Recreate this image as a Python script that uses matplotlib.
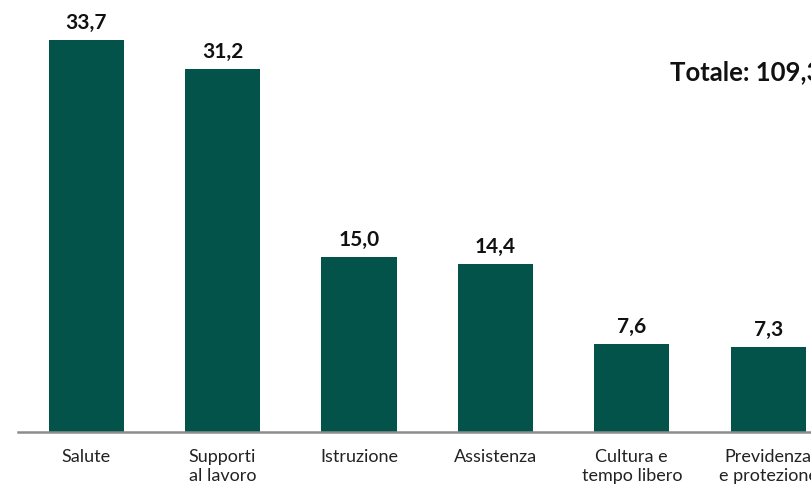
import matplotlib
matplotlib.use("Agg")
import matplotlib.pyplot as plt

categories = ["Salute", "Supporti\nal lavoro", "Istruzione", "Assistenza",
              "Cultura e\ntempo libero", "Previdenza\ne protezione"]
values = [33.7, 31.2, 15.0, 14.4, 7.6, 7.3]
value_labels = ["33,7", "31,2", "15,0", "14,4", "7,6", "7,3"]
total_label = "Totale: 109,3"

plt.rcParams["font.family"] = ["Lato", "DejaVu Sans"]

bar_color = "#03534a"

fig = plt.figure(figsize=(8.11, 4.88), dpi=100)
ax = fig.add_axes([18 / 811, 56 / 488, 818.4 / 811, 432 / 488])

x = range(len(categories))
bars = ax.bar(x, values, width=0.55, color=bar_color)

for b, lab in zip(bars, value_labels):
    ax.annotate(lab, (b.get_x() + b.get_width() / 2, b.get_height()),
                xytext=(0, 5), textcoords="offset points",
                ha="center", va="bottom", fontsize=15, fontweight="bold",
                color="#111111")

ax.set_xlim(-0.5, 5.5)
ax.set_ylim(0, 37.1)

ax.set_xticks(list(x))
ax.set_xticklabels(categories, fontsize=13, color="#222222", linespacing=1.25)
ax.tick_params(axis="x", length=0, pad=12)
ax.set_yticks([])

for s in ["top", "right", "left"]:
    ax.spines[s].set_visible(False)
ax.spines["bottom"].set_color("#8c8c8c")
ax.spines["bottom"].set_linewidth(1.8)

fig.text(670 / 811, 1 - 72 / 488, total_label, fontsize=18.5, fontweight="bold",
         color="#111111", ha="left", va="center")

fig.savefig("out.png", dpi=100)
